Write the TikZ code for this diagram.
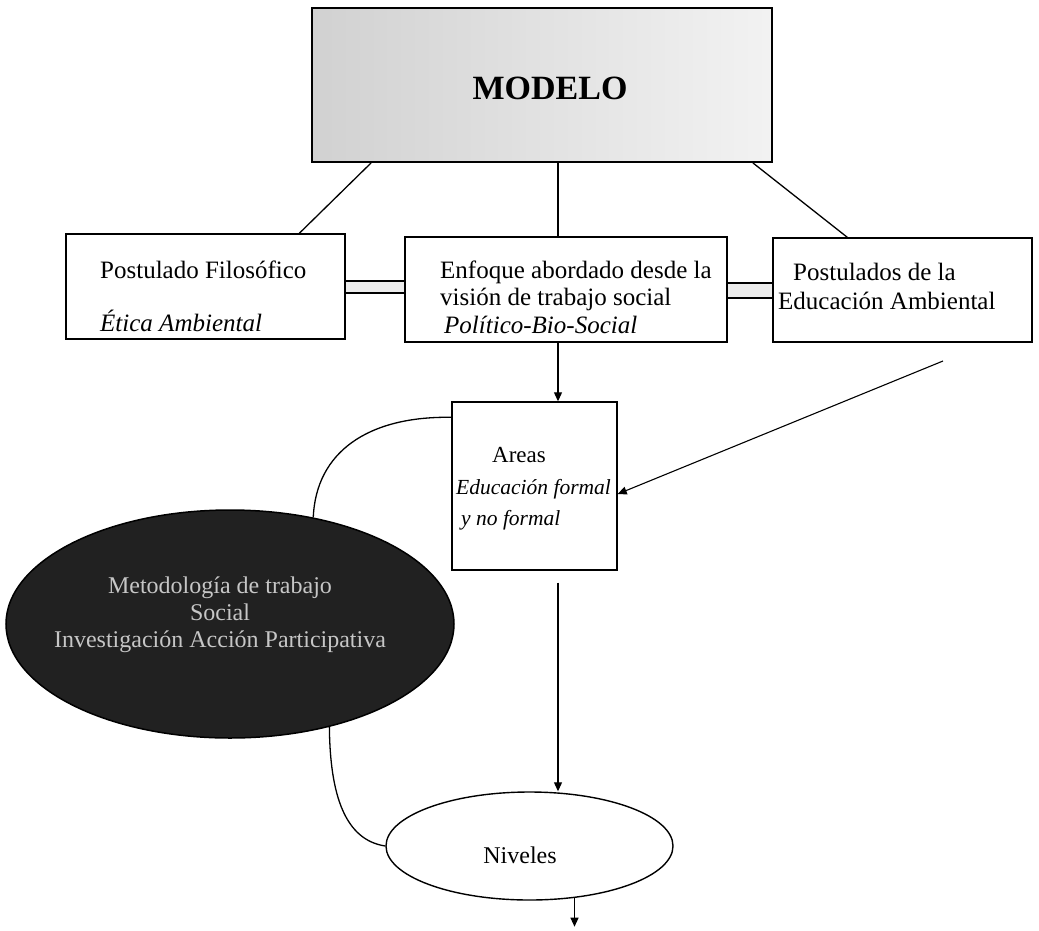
\documentclass[tikz,border=0pt]{standalone}
\usepackage{fontspec}
\setmainfont{Liberation Serif}
\usetikzlibrary{shapes.geometric,arrows.meta,calc}
\begin{document}
\begin{tikzpicture}[x=1pt,y=-1pt,
  box/.style={draw=black,line width=1.4pt,fill=white,rectangle,inner sep=0pt},
  bar/.style={draw=black,line width=1.6pt,fill=gray!15,rectangle,inner sep=0pt},
  txt/.style={font=\fontsize{25}{29}\selectfont,inner sep=0pt,anchor=west},
  itx/.style={font=\fontsize{25}{29}\selectfont\itshape,inner sep=0pt,anchor=west},
  atx/.style={font=\fontsize{21.5}{26}\selectfont\itshape,inner sep=0pt,anchor=west},
  con/.style={line width=1.3pt},
  arr/.style={line width=1.1pt,-{Triangle[length=9pt,width=8pt]}}]
\useasboundingbox (0,0) rectangle (1039,930);
\fill[white] (0,0) rectangle (1039,930);

% MODELO
\node[draw=black,line width=1.8pt,rectangle,inner sep=0pt,minimum width=460pt,minimum height=154pt,
  left color=gray!36,right color=gray!10] (modelo) at (542,85) {};
\node[font=\fontsize{34}{38}\selectfont\bfseries,inner sep=0pt] (modelot) at (550,88) {MODELO};

% second row boxes
\node[box,minimum width=279pt,minimum height=105pt] (pf) at (205.5,286.5) {};
\node[box,minimum width=322pt,minimum height=105pt] (enf) at (566,289.5) {};
\node[box,minimum width=259pt,minimum height=104pt] (pea) at (902.5,290) {};

\node[bar,minimum width=60pt,minimum height=12pt] (bar1) at (375,287) {};
\node[bar,minimum width=46pt,minimum height=15pt] (bar2) at (750,290.5) {};

\node[txt] (pf1) at (100,270) {Postulado Filosófico};
\node[itx] (pf2) at (100,321) {Ética Ambiental};

\node[txt] (enf1) at (440,272) {Enfoque abordado desde la};
\node[txt] (enf2) at (440,299) {visión de trabajo social};
\node[itx] (enf3) at (444,325) {Político-Bio-Social};

\node[txt] (pea1) at (793,272) {Postulados de la};
\node[txt] (pea2) at (778,301) {Educación Ambiental};

% lines from MODELO
\draw[con] ([xshift=60pt]modelo.south west) -- ([xshift=234pt]pf.north west);
\draw[con] ([xshift=16pt]modelo.south) -- ([xshift=-8pt]enf.north);
\draw[con] ([xshift=-20pt]modelo.south east) -- ([xshift=75pt]pea.north west);

% Areas
\node[box,minimum width=165pt,minimum height=168pt] (areas) at (534.5,486) {};
\node[font=\fontsize{23}{28}\selectfont,inner sep=0pt] (ar1) at (519,455) {Areas};
\node[atx] (ar2) at (456,489) {Educación formal};
\node[atx] (ar3) at (461,520) {y no formal};

\draw[arr] ([xshift=-8pt]enf.south) -- ([xshift=-8pt]enf.south |- areas.north);
\coordinate (rs) at (943,361);
\draw[arr] (rs) -- ([yshift=-8pt]areas.east);

% dark ellipse
\node[ellipse,draw=black,line width=1.5pt,fill=black!87,minimum width=448pt,minimum height=228pt,inner sep=0pt] (dark) at (230,624) {};
\node[font=\fontsize{24}{27}\selectfont,text=gray!45,inner sep=0pt,align=center] (darkt) at (220,615)
  {Metodología de trabajo\\ Social\\ Investigación Acción Participativa};

% Niveles
\node[ellipse,draw=black,line width=1.4pt,fill=white,minimum width=287pt,minimum height=108pt,inner sep=0pt] (niv) at (529.5,846) {};
\node[font=\fontsize{24}{28}\selectfont,inner sep=0pt] (nivt) at (520,855) {Niveles};

\draw[con] ([yshift=-16pt]areas.north west) .. controls (368,416) and (316,452) .. (dark.52);
\draw[con] (dark.-46) .. controls (330,795) and (345,840) .. (niv.west);

\draw[arr,shorten >=12pt] ([xshift=23.5pt,yshift=-12pt]areas.south) -- ([xshift=23.5pt,yshift=-12pt]areas.south |- niv.north);
\draw[arr] ([xshift=45pt,yshift=3pt]niv.south) -- ([xshift=45pt,yshift=-26pt]niv.south);
\end{tikzpicture}
\end{document}
